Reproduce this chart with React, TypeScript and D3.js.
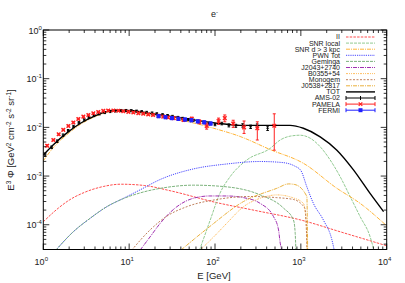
import * as d3 from "d3";

const W = 405;
const H = 283;
const M = { left: 43.3, right: 386.7, top: 30, bottom: 249.5 };

// model curves: [E (GeV), E^3 Phi]
const curveII: [number, number][] = [[1, 1.15e-4], [1.5, 2.2e-4], [2, 3.2e-4], [3, 4.6e-4], [5, 6.1e-4], [8, 6.8e-4], [15, 6.4e-4], [30, 5e-4], [100, 2.9e-4], [300, 1.95e-4], [1000, 1.25e-4], [3000, 7e-5], [10000, 3.7e-5]];
const curveSnrLocal: [number, number][] = [[66, 3e-5], [88, 1.25e-4], [114, 4.4e-4], [150, 9.7e-4], [235, 2.14e-3], [439, 3.7e-3], [574, 5.5e-3], [750, 6.6e-3], [980, 6.9e-3], [1283, 6e-3], [1680, 4e-3], [2195, 2.14e-3], [2870, 9.7e-4], [3750, 3.8e-4], [4900, 1.47e-4], [6400, 5.7e-5], [7000, 3.3e-5]];
const curveSnrFar: [number, number][] = [[1, 2.05e-3], [1.3, 3.8e-3], [1.87, 7e-3], [2.7, 1.15e-2], [3.8, 1.6e-2], [5.5, 2.03e-2], [7.8, 2.2e-2], [11, 2.12e-2], [16, 1.87e-2], [33, 1.5e-2], [60, 1.2e-2], [96, 9.6e-3], [196, 6.5e-3], [439, 3.5e-3], [1070, 1.83e-3], [2630, 5.6e-4], [4900, 2.75e-4], [10000, 9.5e-5]];
const curvePwn: [number, number][] = [[1.4, 3e-5], [2.24, 7.2e-5], [3.5, 1.35e-4], [5.5, 2.35e-4], [8.6, 3.5e-4], [13.4, 5.2e-4], [23, 8.5e-4], [56, 1.4e-3], [137, 1.77e-3], [336, 1.99e-3], [600, 1.9e-3], [850, 1.6e-3], [1000, 1.3e-3], [1175, 6e-4], [1400, 2.75e-4], [1830, 1.25e-4], [2300, 4.9e-5], [2450, 3e-5]];
const curveGeminga: [number, number][] = [[1.4, 3e-5], [2.24, 7.2e-5], [3.5, 1.35e-4], [5.5, 2.35e-4], [8.6, 3.45e-4], [13.4, 4.5e-4], [28, 5.9e-4], [56, 6.5e-4], [137, 6e-4], [336, 4.1e-4], [627, 2.2e-4], [820, 1.25e-4], [858, 7e-5], [875, 3e-5]];
const curveJ2043: [number, number][] = [[13.4, 3e-5], [18, 6e-5], [23, 1.07e-4], [36, 2.35e-4], [56, 3.5e-4], [87, 3.9e-4], [137, 3.9e-4], [215, 3.6e-4], [336, 2.75e-4], [480, 1.47e-4], [550, 7.8e-5], [575, 4.2e-5], [600, 3e-5]];
const curveB0355: [number, number][] = [[67, 3e-5], [100, 6e-5], [137, 1.07e-4], [215, 2.35e-4], [336, 3.5e-4], [530, 4.1e-4], [800, 3.6e-4], [1070, 2.75e-4], [1150, 1.2e-4], [1180, 3e-5]];
const curveMonogem: [number, number][] = [[10.7, 3e-5], [17.5, 7.8e-5], [27, 1.47e-4], [47, 2.35e-4], [105, 3.3e-4], [257, 3.8e-4], [525, 3.6e-4], [820, 3.3e-4], [1110, 2.2e-4], [1160, 8e-5], [1180, 3e-5]];
const curveJ0538: [number, number][] = [[40, 3e-5], [87, 9.2e-5], [215, 3e-4], [525, 5.6e-4], [720, 6.9e-4], [850, 6.7e-4], [1175, 3.8e-4], [1190, 1.2e-4], [1200, 3e-5]];
const curveTot: [number, number][] = [[1, 2.7e-3], [1.31, 4.4e-3], [1.87, 7.6e-3], [2.68, 1.2e-2], [3.83, 1.66e-2], [5.5, 2.1e-2], [7.8, 2.26e-2], [11.2, 2.2e-2], [16, 1.98e-2], [32.6, 1.66e-2], [80, 1.3e-2], [114, 1.2e-2], [196, 1.1e-2], [439, 1.1e-2], [750, 1.1e-2], [1070, 9.6e-3], [1680, 6.4e-3], [2630, 3.4e-3], [4100, 1.34e-3], [6400, 4.4e-4], [9200, 1.86e-4]];

// data points
const amsE = [1.05, 1.25, 1.45, 1.7, 1.95, 2.25, 2.6, 3.0, 3.4, 3.9, 4.5, 5.2, 6.0, 6.9, 8.0, 9.2, 10.6, 12.2, 14, 16, 18.5, 21, 24.5, 28, 32, 37, 42, 49, 56, 64, 74, 85, 100, 120, 145, 175, 210, 260, 310, 410];
const amsV = [2.7e-3, 3.9e-3, 5.2e-3, 6.9e-3, 8.6e-3, 1.05e-2, 1.25e-2, 1.43e-2, 1.6e-2, 1.75e-2, 1.9e-2, 2.02e-2, 2.12e-2, 2.18e-2, 2.22e-2, 2.22e-2, 2.2e-2, 2.15e-2, 2.1e-2, 2.03e-2, 1.97e-2, 1.9e-2, 1.82e-2, 1.75e-2, 1.68e-2, 1.6e-2, 1.53e-2, 1.45e-2, 1.4e-2, 1.33e-2, 1.27e-2, 1.2e-2, 1.15e-2, 1.2e-2, 1.1e-2, 1.08e-2, 1.1e-2, 1.03e-2, 1.08e-2, 9.6e-3];
const amsErr = [0.06, 0.06, 0.06, 0.06, 0.05, 0.05, 0.05, 0.05, 0.05, 0.05, 0.05, 0.05, 0.05, 0.05, 0.05, 0.05, 0.05, 0.05, 0.05, 0.05, 0.05, 0.05, 0.05, 0.05, 0.05, 0.05, 0.05, 0.05, 0.05, 0.05, 0.05, 0.06, 0.06, 0.06, 0.07, 0.07, 0.08, 0.08, 0.09, 0.1];
const pamE = [1.11, 1.31, 1.51, 1.71, 1.96, 2.24, 2.56, 2.93, 3.35, 3.83, 4.37, 5.0, 5.7, 6.55, 7.5, 8.55, 9.8, 11.2, 12.8, 14.6, 16.7, 19, 22, 25, 28.5, 33, 37.5, 43, 53.6, 66, 80, 110, 130, 163, 218, 311, 490];
const pamV = [4.2e-3, 5.5e-3, 7.2e-3, 8.9e-3, 1.07e-2, 1.26e-2, 1.49e-2, 1.66e-2, 1.8e-2, 1.95e-2, 2.07e-2, 2.18e-2, 2.22e-2, 2.22e-2, 2.2e-2, 2.15e-2, 2.08e-2, 2.02e-2, 1.96e-2, 1.9e-2, 1.85e-2, 1.8e-2, 1.72e-2, 1.66e-2, 1.6e-2, 1.55e-2, 1.5e-2, 1.42e-2, 1.5e-2, 1.3e-2, 1.07e-2, 1.35e-2, 1.55e-2, 1.2e-2, 1e-2, 9.6e-3, 1.08e-2];
const pamLo = [4.0e-3, 5.3e-3, 6.9e-3, 8.6e-3, 1.03e-2, 1.22e-2, 1.44e-2, 1.61e-2, 1.74e-2, 1.89e-2, 2.0e-2, 2.11e-2, 2.15e-2, 2.15e-2, 2.13e-2, 2.08e-2, 2.01e-2, 1.95e-2, 1.89e-2, 1.83e-2, 1.78e-2, 1.73e-2, 1.65e-2, 1.59e-2, 1.52e-2, 1.47e-2, 1.41e-2, 1.33e-2, 1.38e-2, 1.18e-2, 9.2e-3, 1.15e-2, 1.3e-2, 1.0e-2, 7.5e-3, 5.5e-3, 3.4e-3];
const pamHi = [4.4e-3, 5.7e-3, 7.5e-3, 9.2e-3, 1.11e-2, 1.3e-2, 1.54e-2, 1.71e-2, 1.86e-2, 2.01e-2, 2.14e-2, 2.25e-2, 2.29e-2, 2.29e-2, 2.27e-2, 2.22e-2, 2.15e-2, 2.09e-2, 2.03e-2, 1.97e-2, 1.92e-2, 1.87e-2, 1.79e-2, 1.73e-2, 1.68e-2, 1.63e-2, 1.59e-2, 1.51e-2, 1.62e-2, 1.42e-2, 1.22e-2, 1.55e-2, 1.8e-2, 1.4e-2, 1.35e-2, 1.3e-2, 1.9e-2];
const fermiE = [22, 26.5, 31.5, 37.5, 44.8, 53, 63, 75, 89];
const fermiV = [1.7e-2, 1.62e-2, 1.55e-2, 1.5e-2, 1.45e-2, 1.4e-2, 1.33e-2, 1.27e-2, 1.2e-2];

const xTicks = [1, 10, 100, 1000, 10000];
const xTickExp = ["0", "1", "2", "3", "4"];
const yTicks = [1, 0.1, 0.01, 0.001, 0.0001];
const yTickExp = ["0", "-1", "-2", "-3", "-4"];

const xScale = d3.scaleLog().domain([1, 1e4]).range([M.left, M.right]);
const yScale = d3.scaleLog().domain([3.1e-5, 1]).range([M.bottom, M.top]);

const models = [
  { name: "II", data: curveII, color: "#ff3838", dash: "2.5,1.2", width: 0.9 },
  { name: "SNR local", data: curveSnrLocal, color: "#86c486", dash: "3,1", width: 0.9 },
  { name: "SNR d > 3 kpc", data: curveSnrFar, color: "#ffac20", dash: "4,1,1,1", width: 0.9 },
  { name: "PWN Tot", data: curvePwn, color: "#4848ff", dash: "1.2,1", width: 1 },
  { name: "Geminga", data: curveGeminga, color: "#6eaa6e", dash: "3,1", width: 0.9 },
  { name: "J2043+2740", data: curveJ2043, color: "#a030b0", dash: "4,1,1,1", width: 1 },
  { name: "B0355+54", data: curveB0355, color: "#ffb850", dash: "2,1,1,1,1,1", width: 0.9 },
  { name: "Monogem", data: curveMonogem, color: "#b8704a", dash: "2,1.5", width: 0.9 },
  { name: "J0538+2817", data: curveJ0538, color: "#e8a828", dash: "4,1,1,1", width: 0.9 },
  { name: "TOT", data: curveTot, color: "#000000", dash: "", width: 1.4 },
];

const lineGen = d3
  .line<[number, number]>()
  .x((d) => xScale(d[0]))
  .y((d) => yScale(d[1]))
  .curve(d3.curveMonotoneX);

const FONT = "Liberation Sans, Arial, sans-serif";

function minorTicks(lo: number, hi: number) {
  const out: number[] = [];
  for (let dec = Math.floor(Math.log10(lo)); dec < Math.ceil(Math.log10(hi)); dec++) {
    for (let k = 2; k <= 9; k++) {
      const v = k * Math.pow(10, dec);
      if (v > lo && v < hi) out.push(v);
    }
  }
  return out;
}

function ErrBar({ x, y0, y1, color, cap }: { x: number; y0: number; y1: number; color: string; cap: number }) {
  return (
    <g stroke={color} strokeWidth={1}>
      <line x1={x} x2={x} y1={y0} y2={y1} />
      <line x1={x - cap} x2={x + cap} y1={y0} y2={y0} />
      <line x1={x - cap} x2={x + cap} y1={y1} y2={y1} />
    </g>
  );
}

export default function App() {
  const xMinor = minorTicks(1, 1e4);
  const yMinor = minorTicks(3.1e-5, 1);
  const legendX = 340;
  const legendY0 = 37;
  const legendStep = 6.1;
  const dataLegend = [
    { name: "AMS-02", color: "#000000", marker: "plus" },
    { name: "PAMELA", color: "#ff2020", marker: "x" },
    { name: "FERMI", color: "#2020ff", marker: "square" },
  ];

  return (
    <svg width={W} height={H} style={{ position: "absolute", left: 0, top: 0, background: "#fff" }} fontFamily={FONT}>
      <defs>
        <clipPath id="plot-clip">
          <rect x={M.left} y={M.top} width={M.right - M.left} height={M.bottom - M.top} />
        </clipPath>
      </defs>

      {/* title */}
      <text x={211} y={17} fontSize={9} fill="#222">
        e<tspan dy={-3.5} fontSize={6}>-</tspan>
      </text>

      {/* model curves */}
      <g clipPath="url(#plot-clip)" fill="none">
        {models.map((m) => (
          <path key={m.name} d={lineGen(m.data) ?? ""} stroke={m.color} strokeWidth={m.width} strokeDasharray={m.dash || undefined} />
        ))}
      </g>

      {/* data */}
      <g clipPath="url(#plot-clip)">
        {amsE.map((e, i) => {
          const x = xScale(e);
          const y = yScale(amsV[i]);
          return (
            <g key={"a" + i}>
              <ErrBar x={x} y0={yScale(amsV[i] * (1 - amsErr[i]))} y1={yScale(amsV[i] * (1 + amsErr[i]))} color="#000" cap={1.3} />
              <line x1={x - 1.3} x2={x + 1.3} y1={y} y2={y} stroke="#000" strokeWidth={1} />
            </g>
          );
        })}
        {pamE.map((e, i) => {
          const x = xScale(e);
          const y = yScale(pamV[i]);
          const s = 1.8;
          return (
            <g key={"p" + i} stroke="#ff2020">
              <ErrBar x={x} y0={yScale(pamLo[i])} y1={yScale(pamHi[i])} color="#ff2020" cap={1.5} />
              <path d={`M${x - s},${y - s}L${x + s},${y + s}M${x - s},${y + s}L${x + s},${y - s}`} strokeWidth={1.4} fill="none" />
            </g>
          );
        })}
        {fermiE.map((e, i) => {
          const x = xScale(e);
          const y = yScale(fermiV[i]);
          return (
            <g key={"f" + i}>
              <ErrBar x={x} y0={yScale(fermiV[i] * 0.93)} y1={yScale(fermiV[i] * 1.07)} color="#2020ff" cap={1.5} />
              <rect x={x - 2} y={y - 2} width={4} height={4} fill="#2020ff" />
            </g>
          );
        })}
      </g>

      {/* frame */}
      <rect x={M.left} y={M.top} width={M.right - M.left} height={M.bottom - M.top} fill="none" stroke="#000" strokeWidth={1} />

      {/* x ticks */}
      <g stroke="#000" strokeWidth={0.8}>
        {xTicks.map((t) => (
          <g key={"xt" + t}>
            <line x1={xScale(t)} x2={xScale(t)} y1={M.bottom} y2={M.bottom - 6} />
            <line x1={xScale(t)} x2={xScale(t)} y1={M.top} y2={M.top + 6} />
          </g>
        ))}
        {xMinor.map((t) => (
          <g key={"xm" + t}>
            <line x1={xScale(t)} x2={xScale(t)} y1={M.bottom} y2={M.bottom - 3} />
            <line x1={xScale(t)} x2={xScale(t)} y1={M.top} y2={M.top + 3} />
          </g>
        ))}
        {yTicks.map((t) => (
          <g key={"yt" + t}>
            <line x1={M.left} x2={M.left + 6} y1={yScale(t)} y2={yScale(t)} />
            <line x1={M.right} x2={M.right - 6} y1={yScale(t)} y2={yScale(t)} />
          </g>
        ))}
        {yMinor.map((t) => (
          <g key={"ym" + t}>
            <line x1={M.left} x2={M.left + 3} y1={yScale(t)} y2={yScale(t)} />
            <line x1={M.right} x2={M.right - 3} y1={yScale(t)} y2={yScale(t)} />
          </g>
        ))}
      </g>

      {/* tick labels */}
      <g fontSize={9} fill="#222">
        {xTicks.map((t, i) => (
          <text key={"xl" + t} x={xScale(t) - 2} y={264.5} textAnchor="middle">
            10<tspan dy={-4} fontSize={6}>{xTickExp[i]}</tspan>
          </text>
        ))}
        {yTicks.map((t, i) => (
          <text key={"yl" + t} x={M.left - 1.5} y={yScale(t) + 3.5} textAnchor="end">
            10<tspan dy={-4} fontSize={6}>{yTickExp[i]}</tspan>
          </text>
        ))}
      </g>

      {/* axis titles */}
      <text x={214} y={279} fontSize={9.5} textAnchor="middle" fill="#222">E [GeV]</text>
      <text transform="translate(14,140) rotate(-90)" fontSize={9.5} textAnchor="middle" fill="#222">
        E<tspan dy={-3.5} fontSize={6.5}>3</tspan>
        <tspan dy={3.5}> Φ [GeV</tspan>
        <tspan dy={-3.5} fontSize={6.5}>2</tspan>
        <tspan dy={3.5}> cm</tspan>
        <tspan dy={-3.5} fontSize={6.5}>-2</tspan>
        <tspan dy={3.5}> s</tspan>
        <tspan dy={-3.5} fontSize={6.5}>-2</tspan>
        <tspan dy={3.5}> sr</tspan>
        <tspan dy={-3.5} fontSize={6.5}>-1</tspan>
        <tspan dy={3.5}>]</tspan>
      </text>

      {/* legend */}
      <g fontSize={7} fill="#222">
        {models.map((m, i) => {
          const y = legendY0 + i * legendStep;
          return (
            <g key={"lg" + m.name}>
              <text x={legendX} y={y + 2.4} textAnchor="end">{m.name}</text>
              <line x1={346} x2={375} y1={y} y2={y} stroke={m.color} strokeWidth={m.width} strokeDasharray={m.dash || undefined} />
            </g>
          );
        })}
        {dataLegend.map((d, j) => {
          const y = legendY0 + (models.length + j) * legendStep;
          const cx = 360.5;
          return (
            <g key={"ld" + d.name}>
              <text x={legendX} y={y + 2.4} textAnchor="end">{d.name}</text>
              <g stroke={d.color} strokeWidth={1}>
                <line x1={346} x2={375} y1={y} y2={y} />
                <line x1={346} x2={346} y1={y - 2} y2={y + 2} />
                <line x1={375} x2={375} y1={y - 2} y2={y + 2} />
              </g>
              {d.marker === "plus" && <line x1={cx} x2={cx} y1={y - 2} y2={y + 2} stroke={d.color} strokeWidth={1} />}
              {d.marker === "x" && (
                <path d={`M${cx - 1.8},${y - 1.8}L${cx + 1.8},${y + 1.8}M${cx - 1.8},${y + 1.8}L${cx + 1.8},${y - 1.8}`} stroke={d.color} strokeWidth={1.2} />
              )}
              {d.marker === "square" && <rect x={cx - 2} y={y - 2} width={4} height={4} fill={d.color} />}
            </g>
          );
        })}
      </g>
    </svg>
  );
}
